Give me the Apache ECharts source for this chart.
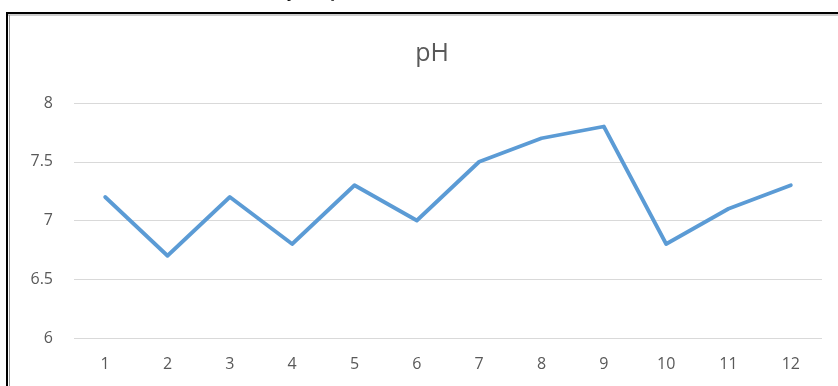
<!DOCTYPE html>
<html>
<head>
<meta charset="utf-8">
<script src="https://cdn.jsdelivr.net/npm/echarts@6/dist/echarts.min.js"></script>
<style>
  html, body { margin: 0; padding: 0; background: #fff; }
  #chart { width: 838px; height: 386px; }
</style>
</head>
<body>
<div id="chart"></div>
<script>
// Monthly sample numbers and measured pH
const months = ['1', '2', '3', '4', '5', '6', '7', '8', '9', '10', '11', '12'];
const phValues = [7.2, 6.7, 7.2, 6.8, 7.3, 7.0, 7.5, 7.7, 7.8, 6.8, 7.1, 7.3];
const yTicks = { min: 6, max: 8, step: 0.5 };

const chart = echarts.init(document.getElementById('chart'));
const labelFont = { color: '#595959', fontFamily: 'Open Sans', fontSize: 16 };

chart.setOption({
  animation: false,
  backgroundColor: '#ffffff',
  title: {
    text: 'pH',
    left: 427,
    top: 36,
    textAlign: 'center',
    textStyle: { color: '#595959', fontFamily: 'Open Sans', fontSize: 25, fontWeight: 'normal' }
  },
  grid: { left: 74, right: 16, top: 103, bottom: 48 },
  xAxis: {
    type: 'category',
    data: months,
    boundaryGap: true,
    axisLine: { show: false },
    axisTick: { show: false },
    axisLabel: Object.assign({ margin: 18 }, labelFont)
  },
  yAxis: {
    type: 'value',
    min: yTicks.min,
    max: yTicks.max,
    interval: yTicks.step,
    axisLine: { show: false },
    axisTick: { show: false },
    axisLabel: Object.assign({ margin: 21 }, labelFont),
    splitLine: { lineStyle: { color: '#d9d9d9', width: 1 } }
  },
  series: [{
    type: 'line',
    data: phValues,
    symbol: 'none',
    lineStyle: { color: '#5b9bd5', width: 3.8, cap: 'round', join: 'round' }
  }],
  graphic: [
    // tail of the caption line above the framed figure
    { type: 'text', left: 287, top: -15, style: { text: 'pH only', font: '16px "Liberation Serif"', fill: '#000' } },
    // frame around the figure
    { type: 'line', shape: { x1: 7, y1: 13, x2: 838, y2: 13 }, style: { stroke: '#000', lineWidth: 2 } },
    { type: 'line', shape: { x1: 8, y1: 15, x2: 838, y2: 15 }, style: { stroke: '#999', lineWidth: 1 } },
    { type: 'line', shape: { x1: 7, y1: 12, x2: 7, y2: 386 }, style: { stroke: '#000', lineWidth: 2 } },
    { type: 'line', shape: { x1: 9.5, y1: 15, x2: 9.5, y2: 386 }, style: { stroke: '#999', lineWidth: 1 } }
  ]
});
</script>
</body>
</html>
